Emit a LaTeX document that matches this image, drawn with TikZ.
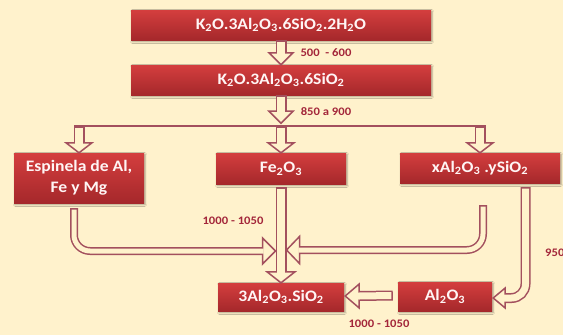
\documentclass[tikz,border=0pt]{standalone}
\usepackage{fontspec}
\setmainfont{Carlito}[FakeStretch=1.1]
\usetikzlibrary{calc,shadows.blur}

\definecolor{cream}{HTML}{FFF2CC}
\definecolor{edge}{HTML}{A3505E}
\definecolor{boxtop}{HTML}{D43E3E}
\definecolor{boxbot}{HTML}{A5282B}
\definecolor{tempred}{HTML}{A3263A}
\newcommand{\sbs}[1]{\textsubscript{#1}}

\begin{document}
\begin{tikzpicture}[
        x=1pt, y=-1pt,
        every node/.style={align=center, inner sep=2pt},
        soft/.style={blur shadow={shadow blur steps=5, shadow xshift=1pt,
                                  shadow yshift=-1.5pt, shadow opacity=35}},
        chem/.style  ={rectangle, top color=boxtop, bottom color=boxbot,
                       text=white!96!red, soft,
                       font=\fontsize{16}{21}\selectfont\bfseries},
        temp/.style  ={text=tempred, font=\fontsize{11.5}{13}\selectfont\bfseries},
        blk/.style   ={line width=#1, draw=edge,
                       postaction={draw=cream, line width=#1-3pt,
                                   shorten <=1.5pt, shorten >=-1pt}},
        blk/.default=11pt,
        tiphead/.style={draw=edge, fill=cream, line width=1.5pt},
        bar/.style   ={draw=edge, line width=1.3pt},
    ]
        \useasboundingbox (0,0) rectangle (563,335);
        \fill[cream] (0,0) rectangle (563,335);

        % ===================== Cajas =====================
        \node[chem, minimum width=300, minimum height=30] (k1)  at (281, 25) {K\sbs{2}O.3Al\sbs{2}O\sbs{3}.6SiO\sbs{2}.2H\sbs{2}O};
        \node[chem, minimum width=300, minimum height=30] (k2)  at (281, 80) {K\sbs{2}O.3Al\sbs{2}O\sbs{3}.6SiO\sbs{2}};
        \node[chem, minimum width=130, minimum height=50] (esp) at ( 79,178) {Espinela de Al,\\Fe y Mg};
        \node[chem, minimum width=130, minimum height=31] (fe)  at (281,168.5) {Fe\sbs{2}O\sbs{3}};
        \node[chem, minimum width=160, minimum height=30] (xal) at (480,168) {xAl\sbs{2}O\sbs{3} .ySiO\sbs{2}};
        \node[chem, minimum width=126, minimum height=28] (mul) at (281,297) {3Al\sbs{2}O\sbs{3}.SiO\sbs{2}};
        \node[chem, minimum width=94,  minimum height=29] (al)  at (445,296.5) {Al\sbs{2}O\sbs{3}};

        % ===================== Temperaturas =====================
        \node[temp] (t1) at (326, 53) {500~~- 600};
        \node[temp] (t2) at (326,112) {850 a 900};
        \node[temp] (t3) at (233,221) {1000 - 1050};
        \node[temp] (t4) at (379,324) {1000 - 1050};
        \node[temp, anchor=west] (t5) at (543,253) {950};

        % ===================== Puntos de union =====================
        \coordinate (barL) at ( 74,126);
        \coordinate (barR) at (486,126);
        \coordinate (vl)   at (275.5,251);
        \coordinate (vr)   at (286.5,250);

        % ===================== Cabezas =====================
        \draw[tiphead] (k2.north) -- ++(-12,-12) -- ++(24,0) -- cycle;
        \draw[tiphead] ($(k2.south)+(0,28)$) -- ++(-12,-12) -- ++(24,0) -- cycle;
        \draw[tiphead] (esp.north) -- ++(-13,-10) -- ++(26,0) -- cycle;
        \draw[tiphead] (fe.north)  -- ++(-13,-10) -- ++(26,0) -- cycle;
        \draw[tiphead] (xal.north) -- ++(-13,-10) -- ++(26,0) -- cycle;
        \draw[tiphead] (mul.north) -- ++(-14,-11) -- ++(28,0) -- cycle;
        \draw[tiphead] (vl) -- ++(-13,-13) -- ++(0,26) -- cycle;
        \draw[tiphead] (vr) -- ++(13,-13.5) -- ++(0,27) -- cycle;
        \draw[tiphead] ($(al.east)+(1,1.5)$) -- ++(12,-10) -- ++(0,20) -- cycle;
        \draw[tiphead] ($(mul.east)+(1,-1)$) -- ++(14,-12) -- ++(0,24) -- cycle;

        % ===================== Flechas =====================
        \draw[blk] (k1.south) -- ($(k2.north)+(0,-12)$);
        \draw[blk] (k2.south) -- ($(k2.south)+(0,16)$);
        \draw[bar] (barL) -- (barR);
        \draw[blk] (esp.north |- barL) -- ($(esp.north)+(0,-10)$);
        \draw[blk] (fe.north |- barL)  -- ($(fe.north)+(0,-10)$);
        \draw[blk] (xal.north |- barL) -- ($(xal.north)+(0,-10)$);

        % Convergencia hacia mullita.
        \draw[blk] ($(fe.south)+(0,3)$) -- ($(mul.north)+(0,-11)$);
        \draw[blk=8pt, rounded corners=16pt] ($(esp.south)+(-5,5)$) |- ($(vl)+(-13,0)$);
        \draw[blk=8pt, rounded corners=16pt] ($(xal.south)+(3,22)$) |- ($(vr)+(13,0)$);

        % Rama de alumina.
        \draw[blk=10pt, rounded corners=14pt] ($(xal.south)+(45.5,4)$) |- ($(al.east)+(13,1.5)$);
        \draw[blk=10pt] ($(al.west)+(-5,-1)$) -- ($(mul.east)+(15,-1)$);
    \end{tikzpicture}
\end{document}
